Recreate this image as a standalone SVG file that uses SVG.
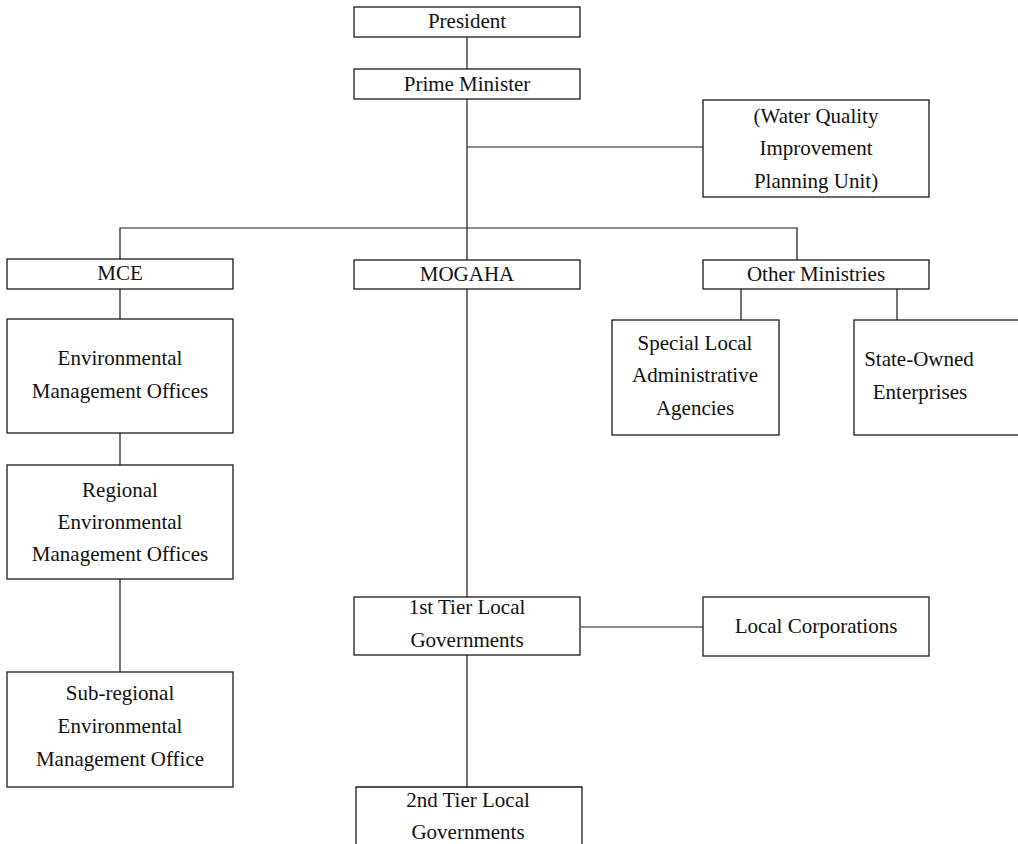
<svg xmlns="http://www.w3.org/2000/svg" width="1018" height="844" viewBox="0 0 1018 844">
<style>
.box{fill:#fff;stroke:#1a1a1a;stroke-width:1.3}
.ln{fill:none;stroke:#1a1a1a;stroke-width:1.2}
text{font-family:"Liberation Serif","Times New Roman",serif;font-size:21px;fill:#111;text-anchor:middle}
</style>
<rect width="1018" height="844" fill="#fff"/>
<g id="connectors">
<path class="ln" d="M467,37 V69"/>
<path class="ln" d="M467,99 V260"/>
<path class="ln" d="M467,147 H703"/>
<path class="ln" d="M120,259 V228 H797 V260"/>
<path class="ln" d="M120,289 V319"/>
<path class="ln" d="M120,433 V465"/>
<path class="ln" d="M120,579 V672"/>
<path class="ln" d="M741,289 V320"/>
<path class="ln" d="M897,289 V320"/>
<path class="ln" d="M467,289 V597"/>
<path class="ln" d="M581,627 H703"/>
<path class="ln" d="M467,655 V787"/>
</g>
<g id="president"><rect class="box" x="354" y="7" width="226" height="30"/><text x="467" y="28">President</text></g>
<g id="prime-minister"><rect class="box" x="354" y="69" width="226" height="30"/><text x="467" y="91">Prime Minister</text></g>
<g id="water-quality"><rect class="box" x="703" y="100" width="226" height="97"/><text x="816" y="123">(Water Quality</text><text x="816" y="155">Improvement</text><text x="816" y="188">Planning Unit)</text></g>
<g id="moe"><rect class="box" x="7" y="259" width="226" height="30"/><text x="120" y="280">MCE</text></g>
<g id="mogaha"><rect class="box" x="354" y="260" width="226" height="29"/><text x="467" y="281">MOGAHA</text></g>
<g id="other-ministries"><rect class="box" x="703" y="260" width="226" height="29"/><text x="816" y="281">Other Ministries</text></g>
<g id="emo"><rect class="box" x="7" y="319" width="226" height="114"/><text x="120" y="365">Environmental</text><text x="120" y="398">Management Offices</text></g>
<g id="special-local"><rect class="box" x="612" y="320" width="167" height="115"/><text x="695" y="350">Special Local</text><text x="695" y="382">Administrative</text><text x="695" y="415">Agencies</text></g>
<g id="state-owned"><rect class="box" x="854" y="320" width="180" height="115"/><text x="919" y="366">State-Owned</text><text x="920" y="399">Enterprises</text></g>
<g id="regional"><rect class="box" x="7" y="465" width="226" height="114"/><text x="120" y="497">Regional</text><text x="120" y="529">Environmental</text><text x="120" y="561">Management Offices</text></g>
<g id="first-tier"><rect class="box" x="354" y="597" width="226" height="58"/><text x="467" y="614">1st Tier Local</text><text x="467" y="647">Governments</text></g>
<g id="local-corporations"><rect class="box" x="703" y="597" width="226" height="59"/><text x="816" y="633">Local Corporations</text></g>
<g id="sub-regional"><rect class="box" x="7" y="672" width="226" height="115"/><text x="120" y="700">Sub-regional</text><text x="120" y="733">Environmental</text><text x="120" y="766">Management Office</text></g>
<g id="second-tier"><path class="box" d="M356,850 V787 H582 V850"/><text x="468" y="807">2nd Tier Local</text><text x="468" y="839">Governments</text></g>
</svg>
